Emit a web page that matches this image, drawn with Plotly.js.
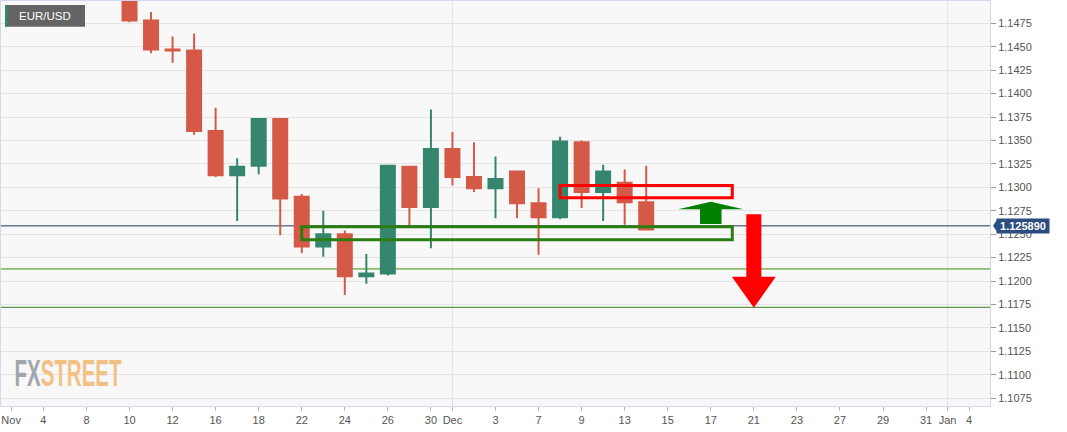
<!DOCTYPE html>
<html><head><meta charset="utf-8">
<script src="https://cdn.plot.ly/plotly-3.0.1.min.js"></script>
<style>html,body{margin:0;padding:0;background:#fff;} #chart{width:1067px;height:432px;}</style>
</head><body><div id="chart"></div>
<script>
// Trading sessions shown on the x axis (weekdays)
const sessions = ['2021-11-04','2021-11-05','2021-11-08','2021-11-09','2021-11-10','2021-11-11','2021-11-12',
  '2021-11-15','2021-11-16','2021-11-17','2021-11-18','2021-11-19','2021-11-22','2021-11-23','2021-11-24',
  '2021-11-25','2021-11-26','2021-11-29','2021-11-30','2021-12-01','2021-12-02','2021-12-03','2021-12-06',
  '2021-12-07','2021-12-08','2021-12-09','2021-12-10','2021-12-13','2021-12-14','2021-12-15','2021-12-16',
  '2021-12-17','2021-12-20','2021-12-21','2021-12-22','2021-12-23','2021-12-24','2021-12-27','2021-12-28',
  '2021-12-29','2021-12-30','2021-12-31','2022-01-03','2022-01-04'];

// Daily EUR/USD candles
const dates  = ['2021-11-10','2021-11-11','2021-11-12','2021-11-15','2021-11-16','2021-11-17','2021-11-18',
  '2021-11-19','2021-11-22','2021-11-23','2021-11-24','2021-11-25','2021-11-26','2021-11-29','2021-11-30',
  '2021-12-01','2021-12-02','2021-12-03','2021-12-06','2021-12-07','2021-12-08','2021-12-09','2021-12-10',
  '2021-12-13','2021-12-14'];
const opens  = [1.1591,1.1478,1.1447,1.1446,1.1360,1.1313,1.1323,1.1373,1.1290,1.1237,1.1250,1.1205,1.1208,
  1.1322,1.1279,1.1341,1.1311,1.1299,1.1317,1.1283,1.1268,1.1348,1.1295,1.1305,1.1284];
const highs  = [1.1608,1.1487,1.1461,1.1464,1.1385,1.1331,1.1374,1.1374,1.1293,1.1275,1.1254,1.1229,1.1324,
  1.1323,1.1383,1.1359,1.1348,1.1333,1.1318,1.1299,1.1354,1.1350,1.1324,1.1319,1.1323];
const lows   = [1.1476,1.1443,1.1433,1.1356,1.1311,1.1264,1.1314,1.1249,1.1230,1.1226,1.1185,1.1197,1.1206,
  1.1259,1.1235,1.1302,1.1295,1.1267,1.1267,1.1228,1.1266,1.1278,1.1264,1.1260,1.1254];
const closes = [1.1478,1.1447,1.1446,1.1360,1.1313,1.1322,1.1373,1.1288,1.1237,1.1250,1.1205,1.1208,1.1323,
  1.1279,1.1341,1.1311,1.1299,1.1309,1.1283,1.1268,1.1349,1.1295,1.1317,1.1284,1.1255];

// X tick labels
const tickDates  = ['2021-11-04','2021-11-08','2021-11-10','2021-11-12','2021-11-16','2021-11-18','2021-11-22',
  '2021-11-24','2021-11-26','2021-11-30','2021-12-01','2021-12-03','2021-12-07','2021-12-09','2021-12-13',
  '2021-12-15','2021-12-17','2021-12-21','2021-12-23','2021-12-27','2021-12-29','2021-12-31','2022-01-03','2022-01-04'];
const tickLabels = ['4','8','10','12','16','18','22','24','26','30','Dec','3','7','9','13','15','17','21','23','27','29','31','Jan','4'];
const monthLabel = 'Nov';

// Levels drawn on the chart
const lastPrice = 1.125890;
const supportLight = 1.1213;
const supportDark = 1.1172;
const greenZone = {from:'2021-11-22', to:'2021-12-20', low:1.1244, high:1.1258};
const redZone   = {from:'2021-12-08', to:'2021-12-20', low:1.1289, high:1.1302};
const upArrow   = {at:'2021-12-17', base:1.1261, neck:1.12765, tip:1.12846};
const downArrow = {at:'2021-12-21', top:1.12712, neck:1.12046, tip:1.11715};

const idx = d => sessions.indexOf(d);
const xs = dates.map(idx);
const tickvals = [idx(tickDates[0]) - 1.5].concat(tickDates.map(idx));
const ticktext = [monthLabel].concat(tickLabels);

const RED = '#d45a47', GREEN = '#35866f';
const font = 'Liberation Sans, Arial, sans-serif';

const trace = {
  type:'candlestick', x: xs, open: opens, high: highs, low: lows, close: closes,
  increasing:{line:{color:GREEN,width:2}, fillcolor:GREEN},
  decreasing:{line:{color:RED,width:2}, fillcolor:RED},
  whiskerwidth:0, hoverinfo:'skip', showlegend:false
};

const gx0 = idx(greenZone.from), gx1 = idx(greenZone.to);
const rx0 = idx(redZone.from), rx1 = idx(redZone.to);
const ua = idx(upArrow.at), da = idx(downArrow.at);
const upPath = `M ${ua-0.5},${upArrow.base} L ${ua-0.5},${upArrow.neck} L ${ua-1.52},${upArrow.neck} L ${ua},${upArrow.tip} L ${ua+1.52},${upArrow.neck} L ${ua+0.5},${upArrow.neck} L ${ua+0.5},${upArrow.base} Z`;
const downPath = `M ${da-0.35},${downArrow.top} L ${da+0.35},${downArrow.top} L ${da+0.35},${downArrow.neck} L ${da+1.02},${downArrow.neck} L ${da},${downArrow.tip} L ${da-1.02},${downArrow.neck} L ${da-0.35},${downArrow.neck} Z`;

const shapes = [
  {type:'line', xref:'x', yref:'paper', x0:idx('2021-12-01'), x1:idx('2021-12-01'), y0:0, y1:1, line:{color:'#e4e4e4',width:1}, layer:'below'},
  {type:'line', xref:'x', yref:'paper', x0:idx('2022-01-03'), x1:idx('2022-01-03'), y0:0, y1:1, line:{color:'#e4e4e4',width:1}, layer:'below'},
  {type:'line', xref:'paper', yref:'y', x0:0, x1:1, y0:supportLight, y1:supportLight, line:{color:'#8cbd6c',width:1.6}, layer:'between'},
  {type:'line', xref:'paper', yref:'y', x0:0, x1:1, y0:supportDark, y1:supportDark, line:{color:'#3b7d26',width:1}, layer:'between'},
  {type:'line', xref:'paper', yref:'y', x0:0, x1:1, y0:lastPrice, y1:lastPrice, line:{color:'#22365f',width:1}, layer:'between'},
  {type:'rect', xref:'x', yref:'y', x0:gx0, x1:gx1, y0:greenZone.low, y1:greenZone.high, line:{color:'#2a7d10',width:3}, fillcolor:'rgba(0,0,0,0)', layer:'above'},
  {type:'rect', xref:'x', yref:'y', x0:rx0, x1:rx1, y0:redZone.low, y1:redZone.high, line:{color:'#ff0000',width:3}, fillcolor:'rgba(0,0,0,0)', layer:'above'},
  {type:'path', xref:'x', yref:'y', path:upPath, fillcolor:'#008000', line:{width:0}, layer:'above'},
  {type:'path', xref:'x', yref:'y', path:downPath, fillcolor:'#ff0000', line:{width:0}, layer:'above'},
  // badge
  {type:'rect', xref:'paper', yref:'paper', x0:0.00404, x1:0.08493, y0:0.93654, y1:0.99012, fillcolor:'#646464', line:{width:0}, layer:'above'},
  {type:'rect', xref:'paper', yref:'paper', x0:0.00404, x1:0.00637, y0:0.93654, y1:0.99012, fillcolor:'#2e8c72', line:{width:0}, layer:'above'},
  // price label pointer
  {type:'path', xref:'paper', yref:'y', xsizemode:'pixel', ysizemode:'pixel', xanchor:1, yanchor:lastPrice,
   path:'M 3,0 L 7,6 L 7,-6 Z', fillcolor:'#2b4d80', line:{width:0}, layer:'above'}
];

const annotations = [
  {xref:'paper', yref:'paper', x:0.01587, y:0.9620, xanchor:'left', yanchor:'middle', showarrow:false,
   text:'EUR/USD', font:{family:font, size:11.5, color:'#ffffff'}},
  {xref:'paper', yref:'y', x:1, xshift:6, y:lastPrice, xanchor:'left', yanchor:'middle', showarrow:false,
   text:'<b>' + lastPrice.toFixed(6) + '</b>', font:{family:font, size:11, color:'#ffffff'},
   bgcolor:'#2b4d80', width:52, height:14, borderpad:0},
  {xref:'paper', yref:'paper', x:(68.3-1)/989, y:0.0798, xanchor:'center', yanchor:'middle', showarrow:false,
   text:'<b>FX<span style="color:#f2c185">STREET</span></b>', font:{family:font, size:36, color:'#a2a6ad'}}
];

const tickfont = {family:font, size:11, color:'#555555'};
const layout = {
  width:1067, height:432, autosize:false,
  margin:{l:1, r:77, t:1, b:26, pad:0},
  paper_bgcolor:'#ffffff', plot_bgcolor:'#f8f8f8',
  boxgap:0.35, boxgroupgap:0,
  xaxis:{range:[-1.97,43.97], tickmode:'array', tickvals:tickvals, ticktext:ticktext,
    ticks:'outside', ticklen:4, tickcolor:'#b5b5b5', showgrid:false, zeroline:false,
    showline:true, mirror:true, linecolor:'#d3d9ea', linewidth:1, tickfont:tickfont,
    rangeslider:{visible:false}, fixedrange:true, automargin:false},
  yaxis:{range:[1.10667,1.14988], side:'right', tickmode:'linear', tick0:1.1075, dtick:0.0025,
    tickformat:'.4f', ticks:'outside', ticklen:5, tickcolor:'#999999', gridcolor:'#e4e4e4', gridwidth:1,
    showline:true, mirror:true, linecolor:'#d3d9ea', linewidth:1, zeroline:false, tickfont:tickfont,
    fixedrange:true, automargin:false},
  shapes:shapes, annotations:annotations, showlegend:false
};

Plotly.newPlot('chart', [trace], layout, {displayModeBar:false, staticPlot:true}).then(() => {
  const g = document.querySelector('g.annotation[data-index="2"]');
  if (g) {
    const t = g.querySelector('text.annotation-text');
    if (t) { t.setAttribute('textLength', 107); t.setAttribute('lengthAdjust','spacingAndGlyphs'); }
  }
});
</script></body></html>
